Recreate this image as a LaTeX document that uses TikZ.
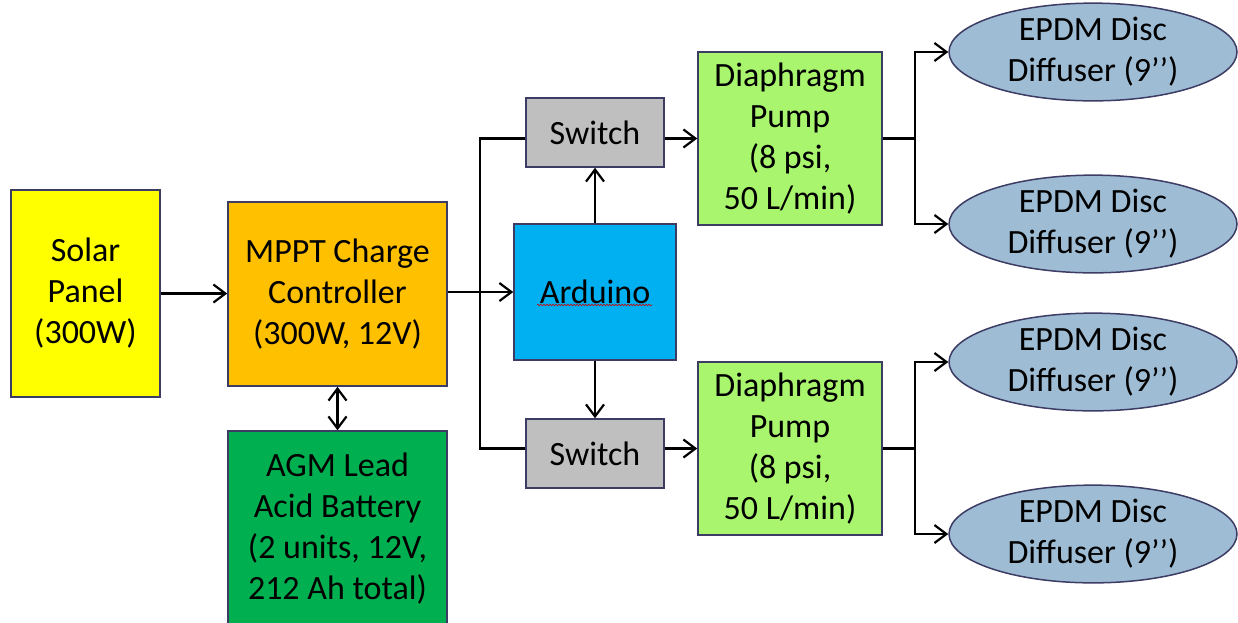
\documentclass[tikz,border=0pt]{standalone}
\usepackage{fontspec}
\setmainfont{Carlito}
\usetikzlibrary{arrows.meta,shapes.geometric,decorations.pathmorphing}
\definecolor{bord}{RGB}{60,60,100}
\definecolor{solarc}{RGB}{255,255,0}
\definecolor{mpptc}{RGB}{255,192,0}
\definecolor{agmc}{RGB}{0,176,80}
\definecolor{ardc}{RGB}{0,176,240}
\definecolor{swc}{RGB}{191,191,191}
\definecolor{pumpc}{RGB}{169,245,110}
\definecolor{ellc}{RGB}{158,188,212}
\begin{document}
\begin{tikzpicture}[x=1pt,y=-1pt,
  box/.style={draw=bord,line width=1.5pt,inner sep=0pt,align=center,
    font=\fontsize{34}{41}\selectfont},
  ell/.style={box,ellipse,fill=ellc,minimum width=288pt,minimum height=92pt},
  tipb/.tip={Straight Barb[length=12pt,width=18pt,line width=2.2pt]},
  conn/.style={line width=2.4pt,-tipb},
  bconn/.style={line width=2.4pt,tipb-tipb},
  plainline/.style={line width=2.4pt}]
\useasboundingbox (0,0) rectangle (1238,622);
\clip (0,0) rectangle (1238,622);
\node[box,fill=solarc,minimum width=149pt,minimum height=207pt] (solar) at (85.5,293.5) {Solar\\Panel\\(300W)};
\node[box,fill=mpptc,minimum width=219pt,minimum height=184pt] (mppt) at (337.5,294) {MPPT Charge\\Controller\\(300W, 12V)};
\node[box,fill=agmc,minimum width=219pt,minimum height=195pt] (agm) at (337.5,528.5) {AGM Lead\\Acid Battery\\(2 units, 12V,\\212 Ah total)};
\node[box,fill=ardc,minimum width=162pt,minimum height=136pt] (ard) at (595,292) {Arduino};
\node[box,fill=swc,minimum width=138pt,minimum height=69pt] (sw1) at (595,132.5) {Switch};
\node[box,fill=swc,minimum width=138pt,minimum height=69pt] (sw2) at (595,453.5) {Switch};
\node[box,fill=pumpc,minimum width=184pt,minimum height=173pt] (pump1) at (790,138.5) {Diaphragm\\Pump\\(8 psi,\\50 L/min)};
\node[box,fill=pumpc,minimum width=184pt,minimum height=173pt] (pump2) at (790,448.5) {Diaphragm\\Pump\\(8 psi,\\50 L/min)};
\node[ell] (e1) at (1093,52) {EPDM Disc\\Diffuser (9’’)};
\node[ell] (e2) at (1093,224) {EPDM Disc\\Diffuser (9’’)};
\node[ell] (e3) at (1093,362) {EPDM Disc\\Diffuser (9’’)};
\node[ell] (e4) at (1093,534) {EPDM Disc\\Diffuser (9’’)};
% spell-check squiggle under Arduino
\coordinate (sqa) at (537,305);
\coordinate (sqb) at (652,305);
\draw[red!80!black,line width=0.6pt,decorate,decoration={snake,amplitude=0.8pt,segment length=3pt}] (sqa) -- (sqb);
% connectors
\draw[conn] (solar.east) -- (solar.east -| mppt.west);
\draw[conn] (mppt.east |- ard.west) -- (ard.west);
\draw[bconn] (mppt.south) -- (agm.north);
\coordinate (jn) at (480,293);
\draw[plainline] (sw1.west |- pump1.west) -| (jn) |- (sw2.west |- pump2.west);
\draw[conn] (ard.north) -- (sw1.south);
\draw[conn] (ard.south) -- (sw2.north);
\draw[conn] (sw1.east |- pump1.west) -- (pump1.west);
\draw[conn] (sw2.east |- pump2.west) -- (pump2.west);
\coordinate (b1) at (915,138.5);
\coordinate (b2) at (915,448.5);
\draw[plainline] (pump1.east) -- (b1);
\draw[plainline] (pump2.east) -- (b2);
\draw[conn] (b1) |- (e1.west);
\draw[conn] (b1) |- (e2.west);
\draw[conn] (b2) |- (e3.west);
\draw[conn] (b2) |- (e4.west);
\end{tikzpicture}
\end{document}
